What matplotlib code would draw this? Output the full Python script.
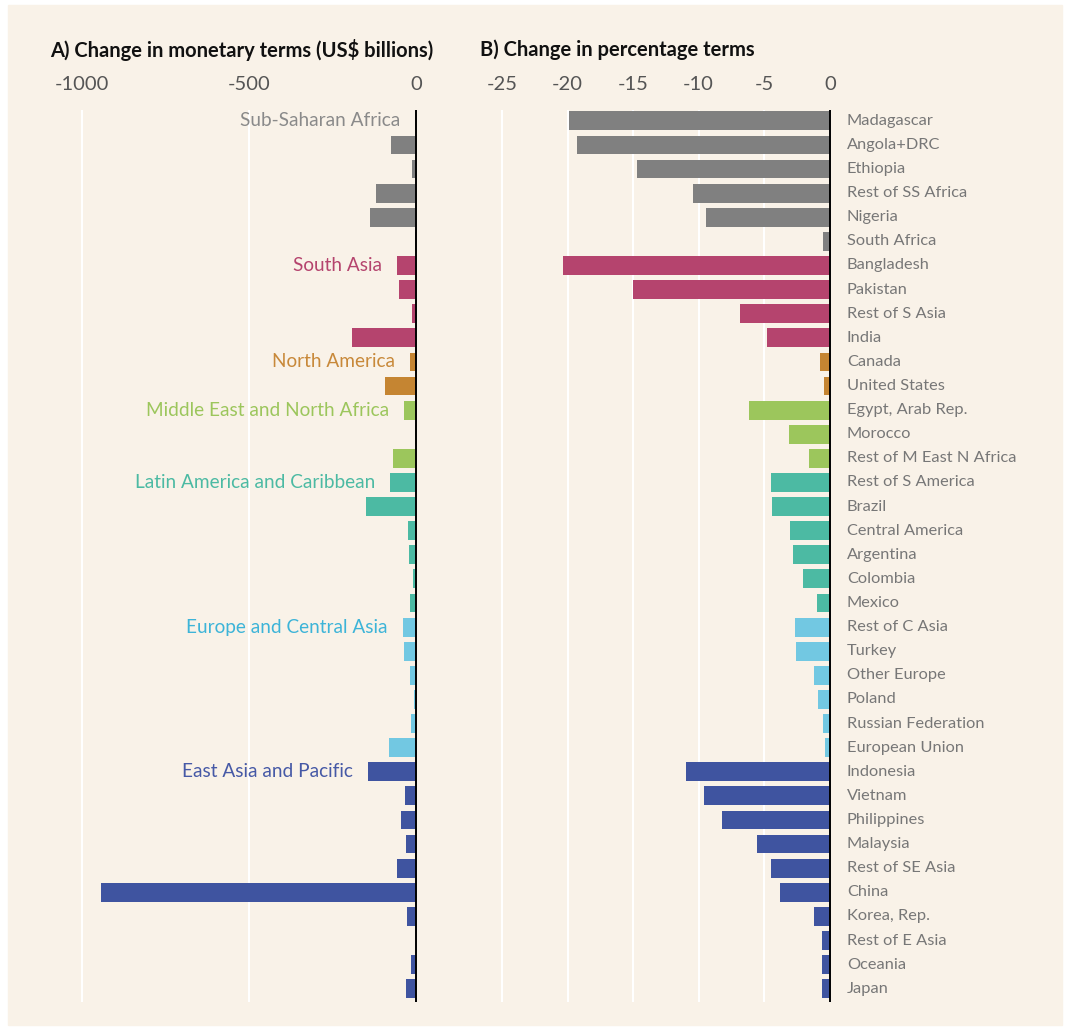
import matplotlib.pyplot as plt
import matplotlib.patches as mpatches
import numpy as np

plt.rcParams['font.family'] = ['Lato', 'DejaVu Sans']

# rows, top to bottom
countries = ['Madagascar', 'Angola+DRC', 'Ethiopia', 'Rest of SS Africa', 'Nigeria',
             'South Africa', 'Bangladesh', 'Pakistan', 'Rest of S Asia', 'India',
             'Canada', 'United States', 'Egypt, Arab Rep.', 'Morocco',
             'Rest of M East N Africa', 'Rest of S America', 'Brazil', 'Central America',
             'Argentina', 'Colombia', 'Mexico', 'Rest of C Asia', 'Turkey',
             'Other Europe', 'Poland', 'Russian Federation', 'European Union',
             'Indonesia', 'Vietnam', 'Philippines', 'Malaysia', 'Rest of SE Asia',
             'China', 'Korea, Rep.', 'Rest of E Asia', 'Oceania', 'Japan']

region_of = ['SSA'] * 6 + ['SA'] * 4 + ['NA'] * 2 + ['MENA'] * 3 + ['LAC'] * 6 \
    + ['ECA'] * 6 + ['EAP'] * 10

# A) US$ billions
monetary = [-2, -76, -13, -121, -138, -3, -58, -52, -13, -192, -18, -92,
            -36, -4, -69, -77, -149, -25, -21, -9, -17, -40, -36, -18, -6, -16, -81,
            -143, -32, -45, -29, -56, -943, -26, 0, -14, -30]

# B) percent
percent = [-19.9, -19.3, -14.7, -10.4, -9.45, -0.5, -20.35, -15.0, -6.85, -4.8,
           -0.75, -0.45, -6.2, -3.1, -1.6, -4.5, -4.4, -3.05, -2.8, -2.05, -1.0,
           -2.65, -2.6, -1.2, -0.9, -0.5, -0.35, -11.0, -9.6, -8.2, -5.55, -4.5,
           -3.8, -1.2, -0.6, -0.6, -0.6]

regions = ['SSA', 'SA', 'NA', 'MENA', 'LAC', 'ECA', 'EAP']
region_names = ['Sub-Saharan Africa', 'South Asia', 'North America',
                'Middle East and North Africa', 'Latin America and Caribbean',
                'Europe and Central Asia', 'East Asia and Pacific']
region_colors = ['#808080', '#b5446e', '#c58532', '#9cc65c', '#4cbaa3',
                 '#72c8e2', '#3f54a0']
label_colors = ['#8a8a8a', '#b5446e', '#c8893a', '#9cc65c', '#4cbaa3',
                '#3db4d8', '#4659a6']

col = dict(zip(regions, region_colors))
colors = [col[r] for r in region_of]
y = np.arange(len(countries))

bg = '#f9f2e8'
fig = plt.figure(figsize=(10.67, 10.30), dpi=100, facecolor='white')
fig.patches.append(mpatches.Rectangle((8 / 1067, 5 / 1030), 1054 / 1067, 1020 / 1030,
                                      transform=fig.transFigure, color=bg, zorder=-5))

axA = fig.add_axes([0.04555, 0.0272, 0.3663, 0.866])
axB = fig.add_axes([0.452, 0.0272, 0.338, 0.866])

for ax in (axA, axB):
    ax.set_facecolor('none')
    for s in ax.spines.values():
        s.set_visible(False)
    ax.set_ylim(36.55, -0.45)
    ax.set_yticks([])
    ax.xaxis.tick_top()
    ax.tick_params(axis='x', length=0, pad=12, labelsize=14.5, labelcolor='#555555')
    ax.axvline(0, color='black', lw=1.4, zorder=3)

# panel A
axA.set_xlim(-1100, 70)
axA.set_xticks([-1000, -500, 0])
axA.set_xticklabels(['-1000', '-500', '0'])
for gx in [-1000, -500]:
    axA.axvline(gx, color='white', lw=1.5, zorder=0)
axA.barh(y, monetary, height=0.78, color=colors, zorder=2)

for r, name, c in zip(regions, region_names, label_colors):
    i = region_of.index(r)
    axA.text(monetary[i] - 45, i, name, ha='right', va='center', fontsize=13.7,
             color=c, zorder=4)

# panel B
axB.set_xlim(-26.5, 1.0)
axB.set_xticks([-25, -20, -15, -10, -5, 0])
axB.set_xticklabels(['-25', '-20', '-15', '-10', '-5', '0'])
for gx in [-25, -20, -15, -10, -5]:
    axB.axvline(gx, color='white', lw=1.5, zorder=0)
axB.barh(y, percent, height=0.78, color=colors, zorder=2)
for i, name in enumerate(countries):
    axB.text(1.3, i, name, ha='left', va='center', fontsize=11.8, color='#777777',
             clip_on=False)

fig.text(50 / 1067, 1 - 50 / 1030, 'A) Change in monetary terms (US$ billions)',
         fontsize=14.5, fontweight='bold', color='#111111', va='center', ha='left')
fig.text(480 / 1067, 1 - 50 / 1030, 'B) Change in percentage terms',
         fontsize=14.5, fontweight='bold', color='#111111', va='center', ha='left')

fig.savefig('out.png', dpi=100, facecolor='white')
